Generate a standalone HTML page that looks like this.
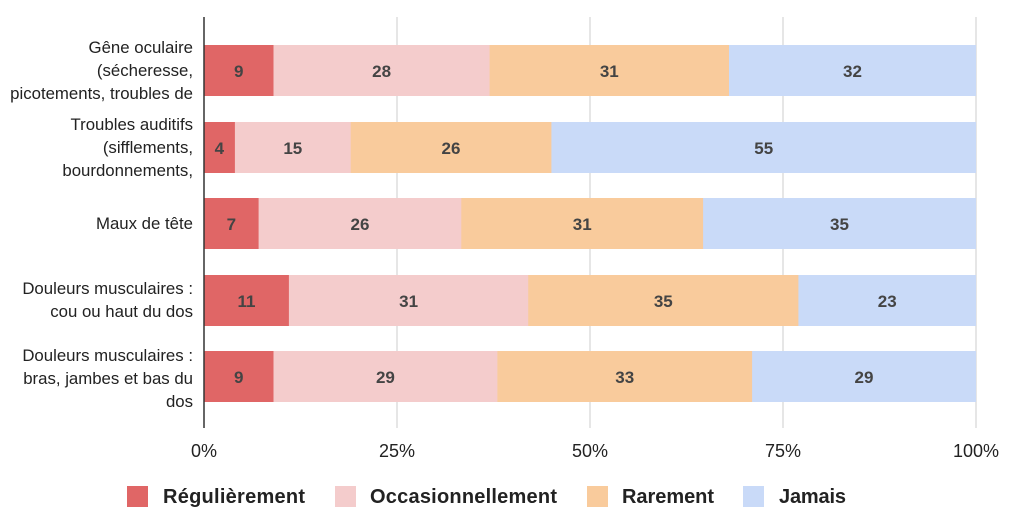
<!DOCTYPE html><html><head><meta charset="utf-8"><style>body{margin:0;background:#fff}svg{display:block}</style></head><body>
<svg width="1024" height="522" xmlns="http://www.w3.org/2000/svg" font-family="Liberation Sans, sans-serif">
<g stroke="#d9d9d9" stroke-width="1.3"><line x1="397" y1="17" x2="397" y2="428"/><line x1="590" y1="17" x2="590" y2="428"/><line x1="783" y1="17" x2="783" y2="428"/><line x1="976" y1="17" x2="976" y2="428"/></g>
<g>
<rect x="204" y="45" width="70" height="51" fill="#e06666"/><rect x="273.5" y="45" width="216.6" height="51" fill="#f4cccc"/><rect x="489.6" y="45" width="239.8" height="51" fill="#f9cb9c"/><rect x="729" y="45" width="247" height="51" fill="#c9daf8"/>
<rect x="204" y="122" width="31.4" height="51" fill="#e06666"/><rect x="234.9" y="122" width="116.3" height="51" fill="#f4cccc"/><rect x="350.7" y="122" width="201.2" height="51" fill="#f9cb9c"/><rect x="551.4" y="122" width="424.6" height="51" fill="#c9daf8"/>
<rect x="204" y="198" width="55.1" height="51" fill="#e06666"/><rect x="258.6" y="198" width="203.2" height="51" fill="#f4cccc"/><rect x="461.3" y="198" width="242.2" height="51" fill="#f9cb9c"/><rect x="703.1" y="198" width="272.9" height="51" fill="#c9daf8"/>
<rect x="204" y="275" width="85.4" height="51" fill="#e06666"/><rect x="288.9" y="275" width="239.8" height="51" fill="#f4cccc"/><rect x="528.2" y="275" width="270.7" height="51" fill="#f9cb9c"/><rect x="798.4" y="275" width="177.6" height="51" fill="#c9daf8"/>
<rect x="204" y="351" width="70" height="51" fill="#e06666"/><rect x="273.5" y="351" width="224.4" height="51" fill="#f4cccc"/><rect x="497.4" y="351" width="255.2" height="51" fill="#f9cb9c"/><rect x="752.1" y="351" width="223.9" height="51" fill="#c9daf8"/>
</g>
<g font-size="17" font-weight="bold" fill="#444" text-anchor="middle">
<text x="238.7" y="77">9</text><text x="381.6" y="77">28</text><text x="609.3" y="77">31</text><text x="852.5" y="77">32</text>
<text x="219.4" y="154">4</text><text x="292.8" y="154">15</text><text x="451" y="154">26</text><text x="763.7" y="154">55</text>
<text x="231.3" y="230">7</text><text x="360" y="230">26</text><text x="582.2" y="230">31</text><text x="839.5" y="230">35</text>
<text x="246.5" y="307">11</text><text x="408.6" y="307">31</text><text x="663.3" y="307">35</text><text x="887.2" y="307">23</text>
<text x="238.7" y="383">9</text><text x="385.4" y="383">29</text><text x="624.7" y="383">33</text><text x="864" y="383">29</text>
</g>
<line x1="204" y1="17" x2="204" y2="428" stroke="#333" stroke-width="1.5"/>
<g font-size="18" fill="#222" text-anchor="middle"><text x="204" y="457">0%</text><text x="397" y="457">25%</text><text x="590" y="457">50%</text><text x="783" y="457">75%</text><text x="976" y="457">100%</text></g>
<g font-size="16.8" fill="#222" text-anchor="end">
<text x="193" y="53">Gêne oculaire</text><text x="193" y="76">(sécheresse,</text><text x="193" y="99">picotements, troubles de</text>
<text x="193" y="130">Troubles auditifs</text><text x="193" y="153">(sifflements,</text><text x="193" y="176">bourdonnements,</text>
<text x="193" y="229">Maux de tête</text>
<text x="193" y="294">Douleurs musculaires :</text><text x="193" y="317">cou ou haut du dos</text>
<text x="193" y="361">Douleurs musculaires :</text><text x="193" y="384">bras, jambes et bas du</text><text x="193" y="407">dos</text>
</g>
<g font-size="20" font-weight="bold" fill="#222">
<rect x="127" y="486" width="21" height="21" fill="#e06666"/><text x="163" y="503" textLength="142">Régulièrement</text>
<rect x="335" y="486" width="21" height="21" fill="#f4cccc"/><text x="370" y="503" textLength="187">Occasionnellement</text>
<rect x="587" y="486" width="21" height="21" fill="#f9cb9c"/><text x="622" y="503" textLength="92">Rarement</text>
<rect x="743" y="486" width="21" height="21" fill="#c9daf8"/><text x="779" y="503" textLength="67">Jamais</text>
</g>
</svg></body></html>
